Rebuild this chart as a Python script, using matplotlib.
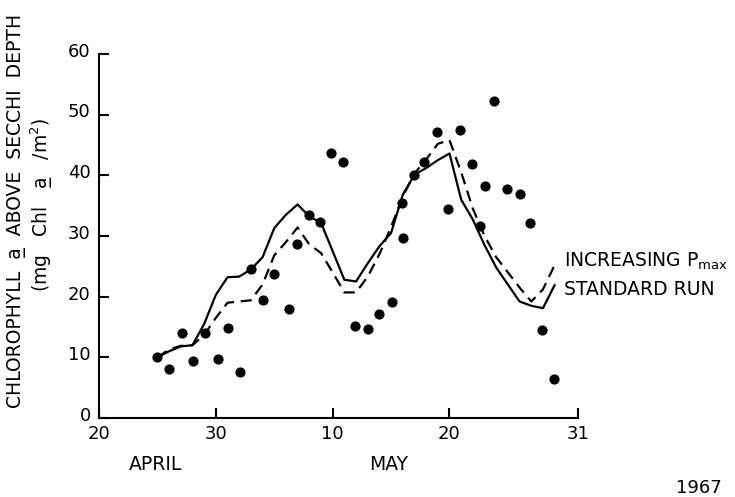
import matplotlib
matplotlib.use("Agg")
import matplotlib.pyplot as plt
from matplotlib.transforms import ScaledTranslation

# days counted from April 20 (0) to May 31 (41)
tick_days = [0, 10, 20, 30, 41]
tick_labels = ["20", "30", "10", "20", "31"]

model_days = list(range(5, 40))
standard_run = [10.0, 11.0, 11.8, 12.0, 15.5, 20.3, 23.2, 23.3, 24.5, 26.5,
                31.3, 33.5, 35.2, 33.2, 32.2, 27.5, 22.8, 22.5, 25.5, 28.3,
                30.5, 36.8, 40.1, 41.2, 42.5, 43.6, 36.0, 32.7, 28.5, 24.8,
                22.0, 19.2, 18.5, 18.1, 21.9]
increasing_pmax = [10.0, 11.3, 11.9, 12.0, 13.7, 16.5, 19.0, 19.2, 19.4, 22.0,
                   26.8, 29.0, 31.4, 28.6, 27.2, 24.0, 20.7, 20.7, 23.3, 27.0,
                   31.5, 36.5, 40.3, 42.6, 45.2, 45.8, 40.5, 34.5, 30.0, 26.5,
                   24.0, 21.5, 19.2, 21.2, 25.2]

obs_days = [5.0, 6.0, 7.1, 8.05, 9.05, 10.15, 11.05, 12.1, 13.05, 14.05,
            15.0, 16.3, 16.95, 17.95, 18.95, 19.9, 20.9, 21.95, 23.0, 24.0,
            25.05, 25.9, 26.0, 26.95, 27.85, 28.9, 29.9, 30.9, 31.9, 32.6,
            33.0, 33.85, 34.9, 36.0, 36.9, 37.95, 38.95]
obs_chl = [10.0, 8.0, 14.0, 9.4, 14.0, 9.7, 14.9, 7.6, 24.5, 19.4,
           23.7, 18.0, 28.7, 33.4, 32.3, 43.6, 42.2, 15.1, 14.7, 17.1,
           19.2, 35.5, 29.6, 40.1, 42.2, 47.1, 34.5, 47.4, 41.9, 31.6,
           38.3, 52.3, 37.8, 37.0, 32.1, 14.5, 6.4]

fig = plt.figure(figsize=(7.35, 4.97), dpi=100)
ax = fig.add_axes([99/735, 1-418/497, (578-99)/735, (418-54)/497])

ax.plot(model_days, standard_run, color="black", lw=1.6)
ax.plot(model_days, increasing_pmax, color="black", lw=1.6, dashes=(5, 3))
ax.scatter(obs_days, obs_chl, s=40, color="black", zorder=3)

ax.set_xlim(0, 41)
ax.set_ylim(0, 60)
ax.set_xticks(tick_days)
ax.set_xticklabels(tick_labels)
ax.set_yticks(range(0, 61, 10))
for s in ["top", "right"]:
    ax.spines[s].set_visible(False)
for s in ["left", "bottom"]:
    ax.spines[s].set_linewidth(1.5)
ax.tick_params(direction="in", length=7, width=1.5, labelsize=13)
ax.tick_params(axis="y", pad=6)
ax.tick_params(axis="x", pad=5)
# y labels sit a little above their ticks in the original
up = ScaledTranslation(0, 3/72, fig.dpi_scale_trans)
for lab in ax.get_yticklabels():
    lab.set_transform(lab.get_transform() + up)

ax.text(39.8, 25.8, r"INCREASING P$_{\rm max}$", fontsize=13.5, va="center")
ax.text(39.8, 21.2, "STANDARD RUN", fontsize=13.5, va="center")

fig.text(156/735, 1-464/497, "APRIL", fontsize=13.5, ha="center", va="center")
fig.text(389/735, 1-464/497, "MAY", fontsize=13.5, ha="center", va="center")
fig.text(699/735, 1-488/497, "1967", fontsize=13, ha="center", va="center")

fig.text(17/735, 1-211/497, "CHLOROPHYLL  a\u0332  ABOVE  SECCHI  DEPTH", fontsize=13.5,
         rotation=90, ha="center", va="center")
fig.text(42/735, 1-205/497, "(mg   Chl   a\u0332   /m$^2$)", fontsize=13.5,
         rotation=90, ha="center", va="center")

fig.savefig("out.png", dpi=100)
